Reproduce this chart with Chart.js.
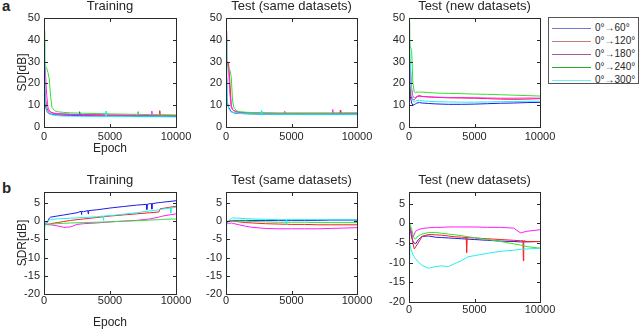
<!DOCTYPE html>
<html>
<head>
<meta charset="utf-8">
<script src="https://cdn.jsdelivr.net/npm/chart.js@4.4.1/dist/chart.umd.min.js"></script>
<style>
  html, body { margin: 0; padding: 0; background: #fff; }
  body { width: 640px; height: 329px; position: relative; overflow: hidden;
         font-family: "Liberation Sans", Arial, sans-serif; color: #262626; }
  canvas { position: absolute; }
  .tag { position: absolute; left: 2px; font-weight: bold; font-size: 15px; line-height: 15px; }
  #legend { position: absolute; left: 548px; top: 17px; width: 91px; height: 67px;
            border: 1px solid #555; box-sizing: border-box; background: #fff; }
  .row { position: absolute; left: 0; width: 100%; height: 12px; }
  .row i { position: absolute; left: 3px; top: 6px; width: 39px; height: 1px; }
  .row span { position: absolute; left: 46px; top: 0; font-size: 10px; line-height: 12px; white-space: nowrap; }
</style>
</head>
<body>
<div class="tag" style="top:-2px">a</div>
<div class="tag" style="top:180px">b</div>
<div id="legend"></div>
<script>
// series
const seriesNames = ['0°→60°', '0°→120°', '0°→180°', '0°→240°', '0°→300°'];
const seriesColors = ['#1c1ce8', '#ff1c1c', '#ff1cff', '#33e033', '#1ff0f0'];
const legendColors = ['#7878d8', '#c87c7c', '#a45aa4', '#22b022', '#70f0f0'];

// ticks
const xTicks = [0, 5000, 10000];
const sdTicks = [0, 10, 20, 30, 40, 50];
const sdrTicks = [-20, -15, -10, -5, 0, 5];

// a: SD[dB], Training
const trainSDEpochs = [0, 50, 100, 200, 300, 400, 500, 600, 800, 1000, 1500, 2000, 3000, 4000, 5000, 6000, 7000, 8000, 9000, 10000];
const trainSD60  = [21, 15, 10, 7.5, 6.5, 6.2, 6.0, 5.8, 5.6, 5.5, 5.4, 5.3, 5.2, 5.1, 5.0, 5.0, 4.9, 4.9, 4.8, 4.8];
const trainSD120 = [20, 18, 14, 9, 7.5, 7, 6.8, 6.5, 6.2, 6.0, 5.9, 5.8, 5.7, 5.6, 5.5, 5.5, 5.4, 5.4, 5.4, 5.3];
const trainSD180 = [25, 29, 26, 15, 9, 7.5, 7, 6.6, 6.3, 6.1, 6.0, 5.8, 5.6, 5.5, 5.4, 5.3, 5.2, 5.2, 5.1, 5.0];
const trainSD240 = [44, 30, 28, 27, 25, 22, 14, 9, 7.5, 7.0, 6.7, 6.5, 6.3, 6.2, 6.0, 5.9, 5.8, 5.7, 5.6, 5.5];
const trainSD300 = [40, 22, 12, 8, 6.5, 6, 5.8, 5.6, 5.4, 5.2, 5.0, 5.0, 4.9, 4.8, 4.8, 4.8, 4.7, 4.7, 4.7, 4.6];
const trainSDSpikes = { 0: [[2700, 5.2, 7]], 1: [[8770, 5.4, 7.5]], 2: [[8170, 5.2, 7.3]], 3: [[7130, 5.8, 7]], 4: [[4700, 4.8, 7.3]] };

// a: SD[dB], Test (same datasets)
const sameSDEpochs = [0, 50, 100, 200, 300, 400, 500, 600, 800, 1000, 1500, 2000, 3000, 4000, 5000, 6000, 7000, 8000, 9000, 10000];
const sameSD60  = [22, 14, 11, 9, 8, 7, 6.8, 6.5, 6.3, 6.2, 6.1, 6.0, 5.9, 5.8, 5.8, 5.7, 5.7, 5.7, 5.7, 5.7];
const sameSD120 = [20, 26, 30, 29, 20, 10, 8, 7.5, 7, 6.8, 6.6, 6.5, 6.4, 6.3, 6.3, 6.3, 6.3, 6.3, 6.3, 6.3];
const sameSD180 = [44, 30, 29, 27, 15, 9, 8, 7.5, 7, 6.7, 6.5, 6.3, 6.2, 6.1, 6.0, 6.0, 6.0, 6.1, 6.1, 6.1];
const sameSD240 = [42, 29, 28, 27, 26, 23, 12, 9, 7.5, 7, 6.8, 6.6, 6.5, 6.4, 6.4, 6.4, 6.4, 6.4, 6.5, 6.5];
const sameSD300 = [40, 25, 12, 8.5, 7.5, 7, 6.8, 6.6, 6.4, 6.2, 6.1, 6.0, 5.9, 5.8, 5.8, 5.8, 5.8, 5.8, 5.8, 5.8];
const sameSDSpikes = { 1: [[8730, 6.3, 7.6]], 2: [[4470, 6.0, 7.2], [8150, 6.1, 8]], 4: [[2700, 5.9, 7.5]] };

// a: SD[dB], Test (new datasets)
const newSDEpochs = [0, 50, 100, 200, 300, 400, 500, 600, 800, 1000, 1500, 2000, 3000, 4000, 5000, 6000, 7000, 8000, 9000, 10000];
const newSD60  = [29, 20, 14, 11, 10, 10.3, 10.6, 11, 11.2, 11, 10.8, 10.6, 10.4, 10.4, 10.5, 10.7, 10.9, 11, 11.2, 11.3];
const newSD120 = [25, 20, 16, 13, 12.5, 12.5, 13, 14, 14.5, 14, 13.8, 13.6, 13.4, 13.3, 13.2, 13, 12.8, 12.7, 12.8, 13];
const newSD180 = [33, 33, 28, 18, 14, 13.5, 13.5, 14, 14, 14, 13.8, 13.7, 13.5, 13.5, 13.4, 13.3, 13.2, 13.2, 13.3, 13.2];
const newSD240 = [48, 40, 37, 35, 20, 16, 15.8, 16, 16, 16, 15.8, 15.6, 15.4, 15.3, 15.1, 15, 14.8, 14.6, 14.4, 14.2];
const newSD300 = [40, 38, 30, 16, 12, 11.5, 11.8, 12.2, 12.2, 12, 11.8, 11.6, 11.5, 11.4, 11.4, 11.5, 11.6, 11.7, 11.8, 11.8];

// b: SDR[dB], Training
const trainSDREpochs = [0, 50, 100, 200, 300, 400, 500, 1000, 1500, 2000, 2500, 3000, 4000, 5000, 6000, 7000, 8000, 8700, 8800, 9000, 10000];
const trainSDR60  = [0, -0.5, -0.8, -0.5, 0, 0.8, 1.1, 1.4, 1.7, 2.0, 2.3, 2.6, 3.1, 3.6, 4.0, 4.4, 4.8, 5.1, 5.1, 5.2, 5.6];
const trainSDR120 = [-1, -1, -1, -0.9, -0.8, -0.8, -0.7, -0.4, -0.1, 0.2, 0.4, 0.6, 1.0, 1.4, 1.7, 2.0, 2.3, 2.5, 3.4, 3.5, 4.1];
const trainSDR180 = [-1, -0.8, -0.8, -0.9, -1, -1, -1, -1.3, -1.7, -1.6, -0.9, -0.7, -0.5, -0.2, 0, 0.2, 0.6, 1.1, 1.2, 1.4, 2.0];
const trainSDR240 = [-1.2, -1, -0.9, -0.9, -0.9, -0.9, -0.8, -0.7, -0.6, -0.5, -0.45, -0.4, -0.3, -0.2, 0, 0.1, 0.3, 0.4, 0.4, 0.5, 0.6];
const trainSDR300 = [-18, -2, 0, -0.5, 0, 0.3, 0.5, 0.6, 0.7, 0.8, 0.9, 1.0, 1.2, 1.5, 1.9, 2.3, 2.8, 3.1, 3.2, 3.3, 3.8];
const trainSDRSpikes = { 0: [[2840, 2.7, 1.8], [3350, 2.9, 2.0], [7790, 4.6, 3.2], [8170, 4.8, 3.3]], 4: [[4500, 1.4, 0.2], [9600, 3.6, 2.2]] };

// b: SDR[dB], Test (same datasets)
const sameSDREpochs = [0, 50, 100, 200, 300, 400, 500, 1000, 1500, 2000, 3000, 4000, 5000, 6000, 7000, 8000, 9000, 10000];
const sameSDR60  = [-1, -0.5, -0.3, -0.1, 0, 0.1, 0.2, 0.2, 0.2, 0.2, 0.2, 0.2, 0.2, 0.2, 0.2, 0.3, 0.3, 0.3];
const sameSDR120 = [-0.5, -0.3, -0.2, -0.1, 0, 0, 0, -0.2, -0.4, -0.5, -0.7, -0.8, -0.9, -0.9, -1, -1, -1, -1];
const sameSDR180 = [-1, -0.7, -0.6, -0.6, -0.6, -0.5, -0.6, -1.0, -1.4, -1.7, -2.0, -2.1, -2.1, -2.1, -2.1, -2.0, -1.9, -1.8];
const sameSDR240 = [-0.5, -0.3, -0.1, 0, 0, 0, 0, 0, 0, -0.1, -0.2, -0.3, -0.3, -0.3, -0.4, -0.4, -0.4, -0.4];
const sameSDR300 = [-18, -1, 0, 0.2, 0.4, 0.7, 0.9, 0.8, 0.7, 0.6, 0.5, 0.4, 0.4, 0.4, 0.4, 0.4, 0.4, 0.4];
const sameSDRSpikes = { 4: [[4620, 0.4, -1]] };

// b: SDR[dB], Test (new datasets)
const newSDREpochs = [0, 50, 100, 200, 300, 400, 500, 700, 1000, 1500, 2000, 2500, 3000, 3500, 4000, 4500, 5000, 6000, 7000, 8000, 8500, 9000, 10000];
const newSDR60  = [0, 0, -1.5, -3.5, -4.5, -5.0, -5.2, -4.2, -3.3, -3.2, -3.5, -3.6, -3.7, -3.8, -3.9, -4.0, -4.1, -4.3, -4.5, -4.6, -4.7, -4.7, -4.6];
const newSDR120 = [0, 0, -1, -3, -5, -6.5, -6.0, -5.0, -3.3, -2.8, -2.9, -3.0, -3.2, -3.4, -3.5, -3.6, -3.7, -3.9, -4.1, -4.3, -4.4, -4.6, -4.6];
const newSDR180 = [0, 0, -1, -2.5, -3.5, -2.8, -2.0, -1.6, -1.3, -1.1, -1.0, -1.0, -0.9, -0.9, -0.9, -0.9, -0.9, -1.0, -1.0, -1.2, -2.4, -2.0, -1.6];
const newSDR240 = [-9, 0, -0.5, -1.5, -2.8, -3.8, -4.0, -3.2, -2.7, -2.3, -2.3, -2.5, -2.7, -2.9, -3.1, -3.4, -3.6, -4.1, -4.6, -5.2, -5.5, -5.9, -6.3];
const newSDR300 = [-9, -5, -6, -7, -8, -8.5, -9.0, -9.8, -10.7, -11.4, -11.0, -10.8, -11.0, -10.2, -9.5, -8.5, -8.2, -7.6, -7.1, -6.8, -6.6, -6.5, -6.3];
const newSDRSpikes = { 1: [[4400, -3.6, -7.4], [8730, -4.4, -9.5]] };

// legend
const legendBox = document.getElementById('legend');
const rowTops = [4, 17, 30, 43, 56];
seriesNames.forEach((name, i) => {
  const row = document.createElement('div');
  row.className = 'row';
  row.style.top = rowTops[i] + 'px';
  row.innerHTML = '<i style="background:' + legendColors[i] + '"></i><span>' + name + '</span>';
  legendBox.appendChild(row);
});

function toPoints(epochs, values, spikes) {
  const pts = epochs.map((e, k) => ({ x: e, y: values[k] }));
  (spikes || []).forEach(([e, base, peak]) => {
    pts.push({ x: e - 30, y: base }, { x: e, y: peak }, { x: e + 30, y: base });
  });
  return pts.sort((a, b) => a.x - b.x);
}

const textColor = '#262626';
const boxColor = '#2a2a2a';
const titleH = 20, yAxisW = 30, padRight = 30;

// 1px box round the plot area plus inward tick marks
const plotBox = {
  id: 'plotBox',
  afterDraw(chart) {
    const ctx = chart.ctx;
    const a = chart.chartArea;
    const sx = chart.scales.x, sy = chart.scales.y;
    const L = Math.round(a.left), T = Math.round(a.top);
    const R = Math.round(a.right), B = Math.round(a.bottom);
    ctx.save();
    ctx.fillStyle = boxColor;
    ctx.fillRect(L, T, R - L + 1, 1);
    ctx.fillRect(L, B, R - L + 1, 1);
    ctx.fillRect(L, T, 1, B - T + 1);
    ctx.fillRect(R, T, 1, B - T + 1);
    xTicks.forEach(v => {
      const px = Math.round(sx.getPixelForValue(v));
      ctx.fillRect(px, B - 3, 1, 3);
      ctx.fillRect(px, T + 1, 1, 3);
    });
    sy.ticks.forEach(t => {
      const py = Math.round(sy.getPixelForValue(t.value));
      ctx.fillRect(L + 1, py, 3, 1);
      ctx.fillRect(R - 3, py, 3, 1);
    });
    ctx.restore();
  }
};

function makePanel(p) {
  const w = p.w + yAxisW + padRight;
  const h = p.h + titleH + p.xH;
  const canvas = document.createElement('canvas');
  canvas.width = w; canvas.height = h;
  canvas.style.left = (p.l - yAxisW) + 'px';
  canvas.style.top = (p.t - titleH) + 'px';
  canvas.style.width = w + 'px';
  canvas.style.height = h + 'px';
  document.body.appendChild(canvas);

  new Chart(canvas, {
    type: 'line',
    data: {
      datasets: p.series.map((vals, i) => ({
        label: seriesNames[i],
        data: toPoints(p.epochs, vals, p.spikes && p.spikes[i]),
        borderColor: seriesColors[i],
        borderWidth: 1,
        pointRadius: 0,
        tension: 0,
        order: 5 - i
      }))
    },
    options: {
      responsive: false,
      animation: false,
      layout: { padding: { left: 0, right: padRight, top: 0, bottom: 0 } },
      plugins: {
        legend: { display: false },
        tooltip: { enabled: false },
        title: {
          display: true,
          fullSize: false,
          text: p.title,
          color: textColor,
          font: { family: 'Liberation Sans', size: 13, weight: 'normal', lineHeight: '16px' },
          padding: { top: 0, bottom: 4 }
        }
      },
      scales: {
        x: {
          type: 'linear',
          min: 0,
          max: 10000,
          grid: { display: false, drawTicks: false },
          border: { display: false },
          afterBuildTicks: s => { s.ticks = xTicks.map(v => ({ value: v })); },
          afterFit: s => { s.height = p.xH; },
          ticks: {
            padding: p.xPad,
            color: textColor,
            autoSkip: false,
            maxRotation: 0,
            font: { family: 'Liberation Sans', size: 11 },
            callback: v => String(v)
          },
          title: {
            display: p.showEpoch,
            text: 'Epoch',
            color: textColor,
            font: { family: 'Liberation Sans', size: 12, lineHeight: '14px' },
            padding: { top: 0, bottom: 0 }
          }
        },
        y: {
          min: p.yTicks[0],
          max: p.yMax,
          grid: { display: false, drawTicks: false },
          border: { display: false },
          afterBuildTicks: s => { s.ticks = p.yTicks.map(v => ({ value: v })); },
          afterFit: s => { s.width = yAxisW; },
          ticks: {
            padding: 4,
            color: textColor,
            autoSkip: false,
            font: { family: 'Liberation Sans', size: 11 },
            callback: v => String(v)
          },
          title: {
            display: !!p.yTitle,
            text: p.yTitle || '',
            color: textColor,
            font: { family: 'Liberation Sans', size: 12, lineHeight: '14px' },
            padding: { top: 2, bottom: 0 }
          }
        }
      }
    },
    plugins: [plotBox]
  });
}

const panels = [
  { title: 'Training', l: 44, t: 18, w: 132, h: 109, xH: 29, xPad: 3, showEpoch: true, yTitle: 'SD[dB]',
    yTicks: sdTicks, yMax: 50, epochs: trainSDEpochs,
    series: [trainSD60, trainSD120, trainSD180, trainSD240, trainSD300], spikes: trainSDSpikes },
  { title: 'Test (same datasets)', l: 226, t: 18, w: 131, h: 109, xH: 29, xPad: 3, showEpoch: false,
    yTicks: sdTicks, yMax: 50, epochs: sameSDEpochs,
    series: [sameSD60, sameSD120, sameSD180, sameSD240, sameSD300], spikes: sameSDSpikes },
  { title: 'Test (new datasets)', l: 409, t: 18, w: 131, h: 109, xH: 29, xPad: 3, showEpoch: false,
    yTicks: sdTicks, yMax: 50, epochs: newSDEpochs,
    series: [newSD60, newSD120, newSD180, newSD240, newSD300] },
  { title: 'Training', l: 44, t: 192, w: 132, h: 102, xH: 36, xPad: 0, showEpoch: true, yTitle: 'SDR[dB]',
    yTicks: sdrTicks, yMax: 8, epochs: trainSDREpochs,
    series: [trainSDR60, trainSDR120, trainSDR180, trainSDR240, trainSDR300], spikes: trainSDRSpikes },
  { title: 'Test (same datasets)', l: 226, t: 192, w: 131, h: 102, xH: 36, xPad: 0, showEpoch: false,
    yTicks: sdrTicks, yMax: 8, epochs: sameSDREpochs,
    series: [sameSDR60, sameSDR120, sameSDR180, sameSDR240, sameSDR300], spikes: sameSDRSpikes },
  { title: 'Test (new datasets)', l: 409, t: 192, w: 131, h: 110, xH: 27, xPad: 1, showEpoch: false,
    yTicks: sdrTicks, yMax: 8, epochs: newSDREpochs,
    series: [newSDR60, newSDR120, newSDR180, newSDR240, newSDR300], spikes: newSDRSpikes }
];

panels.forEach(makePanel);
</script>
</body>
</html>
